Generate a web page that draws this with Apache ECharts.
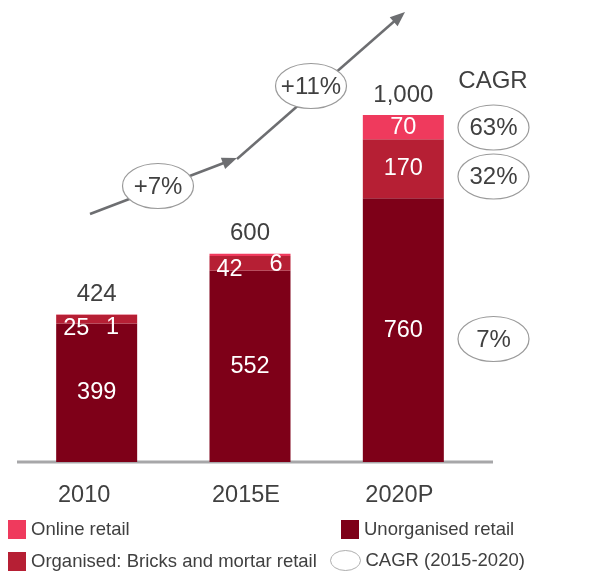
<!DOCTYPE html>
<html>
<head>
<meta charset="utf-8">
<script src="https://cdn.jsdelivr.net/npm/echarts@6/dist/echarts.min.js"></script>
<style>
html, body { margin: 0; padding: 0; background: #fff; }
#main { width: 595px; height: 572px; }
</style>
</head>
<body>
<div id="main"></div>
<script>
var years = ['2010', '2015E', '2020P'];
var unorganised = [399, 552, 760];
var organised = [25, 42, 170];
var online = [1, 6, 70];
var totals = [424, 600, 1000];
var cagr = ['63%', '32%', '7%'];      // online, organised, unorganised (2015-2020)
var growth = ['+7%', '+11%'];

var FONT = '"Liberation Sans", Arial, Helvetica, sans-serif';
var TXT = '#404040';
var C_ONLINE = '#ef3a5d';
var C_ORG = '#b61f34';
var C_UNORG = '#7e0018';
var FS = 23.5;   // bar labels, axis
var FB = 24;     // bubbles, totals

function fmt(v) {
    return String(v).replace(/\B(?=(\d{3})+(?!\d))/g, ',');
}

// small segments of 2010/2015 get their labels pushed into the bar like the original
var orgData = organised.map(function (v, i) {
    if (i < 2) {
        return { value: v, label: { position: 'insideLeft', distance: 7, offset: [0, i == 0 ? 9 : 6] } };
    }
    return v;
});
var onlineData = online.map(function (v, i) {
    if (i < 2) {
        return { value: v, label: { position: 'insideRight', distance: i == 0 ? 18 : 8, offset: [0, i == 0 ? 13 : 10] } };
    }
    return v;
});

// arrow + ellipses
function arrowHead(x1, y1, x2, y2, len, half) {
    var a = Math.atan2(y2 - y1, x2 - x1);
    var bx = x2 - len * Math.cos(a), by = y2 - len * Math.sin(a);
    return {
        type: 'polygon',
        shape: { points: [[x2, y2], [bx + half * Math.sin(a), by - half * Math.cos(a)], [bx - half * Math.sin(a), by + half * Math.cos(a)]] },
        style: { fill: '#6d6e71' }
    };
}
function bubble(cx, cy, text) {
    return [
        { type: 'ellipse', shape: { cx: cx, cy: cy, rx: 35.5, ry: 22.5 }, style: { fill: '#fff', stroke: '#9a9a9a', lineWidth: 1.2 }, z: 10 },
        { type: 'text', x: cx, y: cy + 1, style: { text: text, font: FB + 'px ' + FONT, fill: TXT, align: 'center', verticalAlign: 'middle' }, z: 11 }
    ];
}

var pts = [[90, 214], [237, 158], [405, 12]];
var graphics = [
    { type: 'line', shape: { x1: pts[0][0], y1: pts[0][1], x2: pts[1][0] - 8, y2: pts[1][1] + 3 }, style: { stroke: '#6d6e71', lineWidth: 2.5 } },
    arrowHead(pts[0][0], pts[0][1], pts[1][0], pts[1][1], 15, 6),
    { type: 'line', shape: { x1: pts[1][0], y1: pts[1][1] + 1, x2: pts[2][0] - 7, y2: pts[2][1] + 6 }, style: { stroke: '#6d6e71', lineWidth: 2.5 } },
    arrowHead(pts[1][0], pts[1][1], pts[2][0], pts[2][1], 15, 6),
    { type: 'line', shape: { x1: 17, y1: 462, x2: 493, y2: 462 }, style: { stroke: '#a7a7a9', lineWidth: 3 } },
    { type: 'text', x: 493, y: 81, style: { text: 'CAGR', font: FB + 'px ' + FONT, fill: TXT, align: 'center', verticalAlign: 'middle' } }
];
graphics = graphics.concat(bubble(158, 186, growth[0]), bubble(311, 86, growth[1]));
graphics = graphics.concat(bubble(493.5, 127.5, cagr[0]), bubble(493.5, 176.5, cagr[1]), bubble(493.5, 339, cagr[2]));

function legendAt(left, top, name, w, h, icon, extra) {
    var lg = {
        left: left, top: top, padding: 0,
        itemWidth: w, itemHeight: h, icon: icon,
        textStyle: { color: TXT, fontSize: 18.5, fontFamily: FONT, padding: [3, 0, 0, 0] },
        data: [name]
    };
    if (extra) lg.itemStyle = extra;
    return lg;
}

var myChart = echarts.init(document.getElementById('main'));

var option = {
    animation: false,
    textStyle: { fontFamily: FONT },
    grid: { left: 20, right: 115, top: 115, bottom: 110 },
    xAxis: {
        type: 'category',
        data: years,
        axisLine: { show: false },
        axisTick: { show: false },
        axisLabel: {
            color: TXT, fontSize: FS, fontFamily: FONT, margin: 22,
            // the original labels sit a little left of the bar centres
            formatter: function (v, i) { return '{l' + i + '|' + v + '}'; },
            rich: {
                l0: { fontSize: FS, color: TXT, padding: [0, 25, 0, 0] },
                l1: { fontSize: FS, color: TXT, padding: [0, 8, 0, 0] },
                l2: { fontSize: FS, color: TXT, padding: [0, 8, 0, 0] }
            }
        }
    },
    yAxis: {
        type: 'value',
        min: 0,
        max: 1000,
        show: false,
        splitLine: { show: false }
    },
    legend: [
        legendAt(8, 520, 'Online retail', 18, 19, 'rect'),
        legendAt(8, 552, 'Organised: Bricks and mortar retail', 18, 19, 'rect'),
        legendAt(341, 520, 'Unorganised retail', 18, 19, 'rect'),
        legendAt(330, 550, 'CAGR (2015-2020)', 30, 20, 'path://M0,10 A15,10 0 1,1 30,10 A15,10 0 1,1 0,10 Z',
            { color: '#fff', borderColor: '#9a9a9a', borderWidth: 1 })
    ],
    series: [
        {
            name: 'Unorganised retail',
            type: 'bar', stack: 'retail', barWidth: 81,
            itemStyle: { color: C_UNORG },
            label: { show: true, position: 'inside', color: '#fff', fontSize: FS, fontFamily: FONT },
            data: unorganised
        },
        {
            name: 'Organised: Bricks and mortar retail',
            type: 'bar', stack: 'retail', barWidth: 81,
            itemStyle: { color: C_ORG },
            label: { show: true, position: 'inside', color: '#fff', fontSize: FS, fontFamily: FONT },
            data: orgData
        },
        {
            name: 'Online retail',
            type: 'bar', stack: 'retail', barWidth: 81,
            itemStyle: { color: C_ONLINE },
            label: { show: true, position: 'inside', color: '#fff', fontSize: FS, fontFamily: FONT },
            data: onlineData
        },
        {
            name: 'total',
            type: 'scatter',
            symbolSize: 0,
            silent: true,
            itemStyle: { opacity: 1 },
            label: {
                show: true, position: 'top', distance: 8,
                color: TXT, fontSize: FB, fontFamily: FONT,
                formatter: function (p) { return fmt(p.value); }
            },
            data: totals
        },
        {
            name: 'CAGR (2015-2020)',
            type: 'scatter',
            itemStyle: { color: '#fff', borderColor: '#9a9a9a', borderWidth: 1 },
            data: []
        }
    ],
    graphic: graphics
};

myChart.setOption(option);
</script>
</body>
</html>
